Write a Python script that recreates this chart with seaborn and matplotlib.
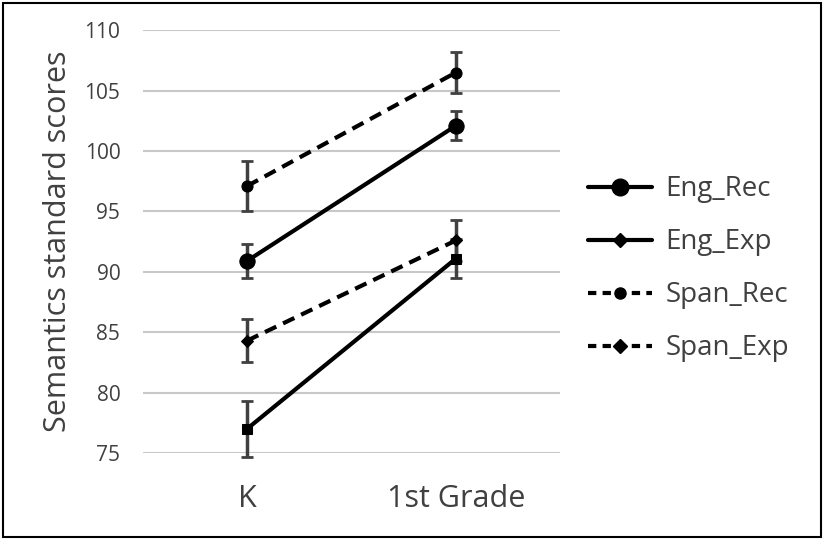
import pandas as pd
import matplotlib
matplotlib.use("Agg")
import matplotlib.pyplot as plt
import seaborn as sns
from matplotlib.lines import Line2D
from matplotlib.patches import Rectangle

# data
grades = ["K", "1st Grade"]
series = ["Eng_Rec", "Eng_Exp", "Span_Rec", "Span_Exp"]
eng_rec = [90.9, 102.1]
eng_exp = [77.0, 91.1]
span_rec = [97.1, 106.5]
span_exp = [84.3, 92.6]
eng_rec_err = [1.4, 1.2]
eng_exp_err = [2.3, 1.6]
span_rec_err = [2.1, 1.7]
span_exp_err = [1.8, 1.7]
yticks = [75, 80, 85, 90, 95, 100, 105, 110]

means = {"Eng_Rec": eng_rec, "Eng_Exp": eng_exp,
         "Span_Rec": span_rec, "Span_Exp": span_exp}
errs = {"Eng_Rec": eng_rec_err, "Eng_Exp": eng_exp_err,
        "Span_Rec": span_rec_err, "Span_Exp": span_exp_err}

df = pd.DataFrame([
    {"series": s, "pos": i, "grade": g, "score": means[s][i], "err": errs[s][i]}
    for s in series for i, g in enumerate(grades)
])

styles = {
    "Eng_Rec": dict(marker="o", ms=11, ls="-"),
    "Eng_Exp": dict(marker="s", ms=7, ls="-"),
    "Span_Rec": dict(marker="o", ms=8, ls="--"),
    "Span_Exp": dict(marker="D", ms=6, ls="--"),
}
legend_markers = {"Eng_Rec": ("o", 12), "Eng_Exp": ("D", 7),
                  "Span_Rec": ("o", 8), "Span_Exp": ("D", 7)}

sns.set_style("white")
plt.rcParams["font.family"] = ["Open Sans", "DejaVu Sans"]
txt = "#404040"

fig = plt.figure(figsize=(8.24, 5.4), dpi=100)
ax = fig.add_axes([0.173, 0.161, 0.507, 0.783])

for s in series:
    d = df[df["series"] == s]
    ax.errorbar(d["pos"], d["score"], yerr=d["err"], fmt="none",
                ecolor="#404040", elinewidth=2.5, capsize=4, capthick=2,
                zorder=2, clip_on=False)
    st = styles[s]
    sns.lineplot(data=d, x="pos", y="score", ax=ax, color="black",
                 linewidth=3, marker=st["marker"], markersize=st["ms"],
                 markeredgecolor="black", linestyle=st["ls"],
                 zorder=3, clip_on=False, legend=False)

for line in ax.get_lines():
    if line.get_linestyle() == "--":
        line.set_dashes((3, 1.8))

ax.set_xlim(-0.5, 1.5)
ax.set_ylim(75, 110)
ax.set_yticks(yticks)
ax.set_xticks([0, 1])
ax.set_xticklabels(grades, fontsize=22, color=txt)
ax.tick_params(axis="x", length=0, pad=22)
ax.tick_params(axis="y", length=0, pad=16, labelsize=15, labelcolor=txt)
ax.yaxis.grid(True, color="#c8c8c8", linewidth=1.5)
ax.xaxis.grid(False)
for sp in ax.spines.values():
    sp.set_visible(False)
ax.set_xlabel("")
ax.set_ylabel("Semantics standard scores", fontsize=22, color=txt, labelpad=8)

handles = []
for s in series:
    m, ms = legend_markers[s]
    h = Line2D([0], [0], color="black", linewidth=3, marker=m, markersize=ms,
               linestyle=styles[s]["ls"])
    if styles[s]["ls"] == "--":
        h.set_dashes((2, 1.5))
    handles.append(h)
fig.legend(handles, series, loc="center left", bbox_to_anchor=(0.683, 0.502),
           frameon=False, fontsize=20, handlelength=2.3, handletextpad=0.5,
           labelspacing=0.9, labelcolor=txt)

fig.patches.append(Rectangle((0.004, 0.006), 0.992, 0.988, transform=fig.transFigure,
                             fill=False, edgecolor="black", linewidth=1.5))

fig.savefig("out.png", dpi=100)
